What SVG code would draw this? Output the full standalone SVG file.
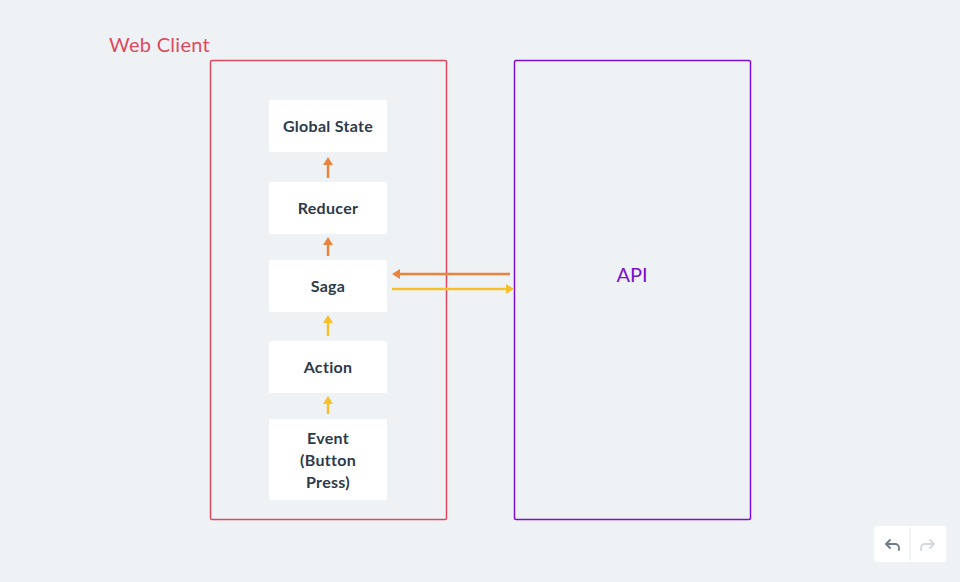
<svg xmlns="http://www.w3.org/2000/svg" width="960" height="582" viewBox="0 0 960 582">
<style>
.node{fill:#ffffff;}
.lbl{font-family:Lato,"Open Sans",sans-serif;font-weight:700;font-size:16px;letter-spacing:0.3px;fill:#2d3a4a;text-anchor:middle;}
.o{stroke:#e8843e;stroke-width:2.5;fill:none;}
.y{stroke:#f5c12a;stroke-width:2.5;fill:none;}
</style>
<defs>
<marker id="ao" markerWidth="4" markerHeight="4" refX="2" refY="2" orient="auto" markerUnits="strokeWidth"><path d="M0,0L3.2,2L0,4Z" fill="#e8843e"/></marker>
<marker id="ay" markerWidth="4" markerHeight="4" refX="2" refY="2" orient="auto" markerUnits="strokeWidth"><path d="M0,0L3.2,2L0,4Z" fill="#f5c12a"/></marker>
</defs>
<rect width="960" height="582" fill="#eff2f5"/>
<g id="web-client">
<rect x="210.5" y="60.5" width="236" height="459" rx="1.5" fill="none" stroke="#dc4a5f" stroke-width="1.5"/>
<text x="109" y="52" font-family="Lato,'Open Sans',sans-serif" font-size="20" letter-spacing="0.3" fill="#dc4a5f">Web Client</text>
</g>
<g id="api">
<rect x="514.5" y="60.5" width="236" height="459" rx="1.5" fill="none" stroke="#7c10d0" stroke-width="1.5"/>
<text x="632" y="282" font-family="Lato,'Open Sans',sans-serif" font-size="20" fill="#7c10d0" text-anchor="middle">API</text>
</g>
<g id="global-state"><rect class="node" x="269" y="100" width="118" height="52" rx="2"/><text class="lbl" x="328" y="131.5">Global State</text></g>
<g id="reducer"><rect class="node" x="269" y="182" width="118" height="52" rx="2"/><text class="lbl" x="328" y="213.5">Reducer</text></g>
<g id="saga"><rect class="node" x="269" y="260" width="118" height="52" rx="2"/><text class="lbl" x="328" y="291.5">Saga</text></g>
<g id="action"><rect class="node" x="269" y="341" width="118" height="52" rx="2"/><text class="lbl" x="328" y="372.5">Action</text></g>
<g id="event"><rect class="node" x="269" y="419" width="118" height="81" rx="2"/>
<text class="lbl" x="328" y="443.5">Event</text><text class="lbl" x="328" y="465.5">(Button</text><text class="lbl" x="328" y="487.5">Press)</text></g>
<g id="connectors">
<line class="o" x1="328" y1="178" x2="328" y2="160" marker-end="url(#ao)"/>
<line class="o" x1="328" y1="256" x2="328" y2="240" marker-end="url(#ao)"/>
<line class="y" x1="328" y1="336" x2="328" y2="318" marker-end="url(#ay)"/>
<line class="y" x1="328" y1="414" x2="328" y2="399" marker-end="url(#ay)"/>
<line class="o" x1="510" y1="274" x2="395" y2="274" marker-end="url(#ao)"/>
<line class="y" x1="392" y1="289" x2="511" y2="289" marker-end="url(#ay)"/>
</g>
<g id="undo-redo">
<rect x="874" y="526" width="72" height="36" rx="4" fill="#ffffff"/>
<line x1="910" y1="527" x2="910" y2="561" stroke="#e3e7ec" stroke-width="1"/>
<path d="M899,550 v-2 a4,4 0 0 0 -4,-4 h-8 M890,540 l-4,4 l4,4" fill="none" stroke="#6c7a89" stroke-width="1.8" stroke-linecap="round" stroke-linejoin="round"/>
<path d="M921,550 v-2 a4,4 0 0 1 4,-4 h8 M930,540 l4,4 l-4,4" fill="none" stroke="#d3d8de" stroke-width="1.8" stroke-linecap="round" stroke-linejoin="round"/>
</g>
</svg>
